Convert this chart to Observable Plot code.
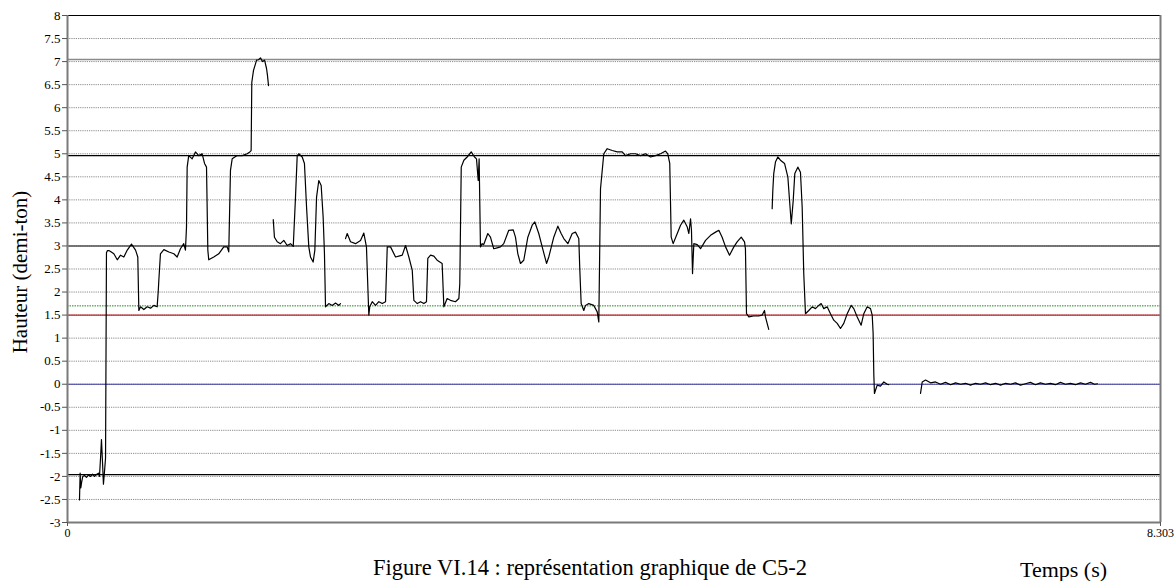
<!DOCTYPE html>
<html>
<head>
<meta charset="utf-8">
<script src="https://cdn.jsdelivr.net/npm/d3@7"></script>
<script src="https://cdn.jsdelivr.net/npm/@observablehq/plot@0.6"></script>
<style>
  body { margin: 0; background: #fff; }
  #wrap { position: relative; width: 1175px; height: 581px; font-family: "Liberation Serif", "Times New Roman", serif; color: #000; }
  #chart svg, #chart svg text { font-family: "Liberation Serif", "Times New Roman", serif !important; }
  #caption { position: absolute; left: 0; width: 1180px; top: 555px; text-align: center; font-size: 22.5px; white-space: nowrap; }
  #xlabel { position: absolute; left: 1020px; top: 557px; font-size: 22px; white-space: nowrap; }
</style>
</head>
<body>
<div id="wrap">
  <div id="chart"></div>
  <div id="caption">Figure VI.14 : représentation graphique de C5-2</div>
  <div id="xlabel">Temps (s)</div>
</div>
<script>
// ---- data: (time in s, height in semitones) ----
const segmentA = [
  [0.091,-2.51],[0.096,-1.93],[0.101,-2.25],[0.109,-2.10],[0.116,-2.00],[0.129,-1.98],[0.144,-2.02],
  [0.160,-1.97],[0.175,-2.00],[0.190,-1.95],[0.205,-2.00],[0.220,-1.96],[0.235,-1.93],[0.243,-2.00],
  [0.251,-1.60],[0.258,-1.20],[0.266,-1.70],[0.273,-2.17],[0.281,-1.90],[0.289,-1.60],[0.296,2.85],
  [0.304,2.90],[0.314,2.90],[0.327,2.88],[0.352,2.83],[0.378,2.70],[0.403,2.80],[0.428,2.76],
  [0.454,2.91],[0.486,3.04],[0.517,2.91],[0.534,2.76],[0.542,1.60],[0.555,1.68],[0.580,1.62],
  [0.605,1.68],[0.631,1.65],[0.656,1.71],[0.681,1.68],[0.689,2.00],[0.694,2.26],[0.706,2.83],
  [0.732,2.92],[0.770,2.87],[0.808,2.83],[0.833,2.76],[0.858,2.94],[0.883,3.05],[0.896,2.91],
  [0.904,3.41],[0.909,4.71],[0.921,4.96],[0.947,4.89],[0.972,5.04],[0.997,4.96],[1.023,5.00],
  [1.041,4.79],[1.056,4.71],[1.066,2.91],[1.073,2.70],[1.111,2.76],[1.149,2.83],[1.187,2.98],
  [1.213,2.98],[1.225,2.87],[1.238,4.64],[1.251,4.89],[1.289,4.96],[1.327,4.96],[1.365,5.00],
  [1.385,5.04],[1.395,5.07],[1.400,6.55],[1.405,6.65],[1.413,6.81],[1.428,6.95],[1.436,7.03],
  [1.451,7.04],[1.466,7.08],[1.481,7.00],[1.497,7.03],[1.512,6.85],[1.519,6.70],[1.527,6.48]
];
const segmentB = [
  [1.563,3.57],[1.572,3.19],[1.593,3.09],[1.618,3.05],[1.643,3.12],[1.669,3.01],[1.694,3.05],
  [1.715,2.99],[1.732,4.06],[1.745,4.96],[1.757,5.00],[1.783,4.93],[1.800,4.79],[1.816,3.84],
  [1.833,2.98],[1.846,2.76],[1.866,2.65],[1.879,2.91],[1.892,4.06],[1.909,4.42],[1.927,4.31],
  [1.942,3.63],[1.952,2.83],[1.960,1.68],[1.985,1.75],[2.011,1.71],[2.036,1.76],[2.061,1.71],
  [2.074,1.75]
];
const segmentC = [
  [2.112,3.16],[2.125,3.27],[2.150,3.09],[2.188,3.05],[2.226,3.12],[2.251,3.28],[2.271,2.98],
  [2.289,1.50],[2.296,1.68],[2.315,1.79],[2.340,1.71],[2.365,1.79],[2.391,1.75],[2.416,1.79],
  [2.429,2.98],[2.454,2.98],[2.492,2.76],[2.517,2.78],[2.543,2.80],[2.568,3.01],[2.593,2.76],
  [2.619,2.47],[2.631,1.82],[2.657,1.75],[2.682,1.79],[2.707,1.75],[2.727,1.79],[2.737,2.73],
  [2.758,2.80],[2.783,2.78],[2.808,2.69],[2.846,2.62],[2.859,1.68],[2.884,1.86],[2.909,1.82],
  [2.947,1.79],[2.973,1.86],[2.980,2.18],[2.991,4.71],[3.011,4.86],[3.036,4.93],[3.067,5.04],
  [3.092,4.93],[3.107,4.89],[3.120,4.42],[3.127,4.89],[3.137,2.98],[3.150,3.05],[3.162,3.03],
  [3.193,3.27],[3.213,3.19],[3.238,2.94],[3.264,2.96],[3.289,2.98],[3.314,3.05],[3.352,3.34],
  [3.386,3.35],[3.403,3.19],[3.421,2.83],[3.441,2.62],[3.466,2.69],[3.497,3.19],[3.530,3.45],
  [3.550,3.52],[3.580,3.27],[3.606,2.98],[3.639,2.62],[3.656,2.76],[3.694,3.19],[3.725,3.43],
  [3.750,3.27],[3.770,3.16],[3.801,3.05],[3.834,3.27],[3.859,3.30],[3.884,3.16],[3.892,2.47],
  [3.902,1.75],[3.922,1.60],[3.935,1.71],[3.960,1.75],[3.998,1.71],[4.024,1.57],[4.036,1.35],
  [4.049,4.24],[4.074,5.00],[4.100,5.11],[4.138,5.07],[4.176,5.04],[4.214,5.04],[4.239,4.96],
  [4.277,5.00],[4.315,5.00],[4.353,4.96],[4.391,5.00],[4.429,4.93],[4.467,4.96],[4.505,5.00],
  [4.543,5.06],[4.560,5.00],[4.575,4.79],[4.586,3.19],[4.601,3.05],[4.632,3.27],[4.657,3.45],
  [4.682,3.56],[4.708,3.41],[4.720,3.27],[4.733,3.59],[4.740,3.34],[4.748,2.40],[4.758,3.05],
  [4.784,3.03],[4.809,2.94],[4.847,3.12],[4.885,3.23],[4.923,3.30],[4.948,3.34],[4.973,3.19],
  [4.999,2.98],[5.029,2.80],[5.062,2.98],[5.087,3.09],[5.118,3.19],[5.143,3.09],[5.150,2.94],
  [5.158,1.53],[5.176,1.46],[5.211,1.48],[5.249,1.48],[5.277,1.50],[5.295,1.60],[5.302,1.46],
  [5.327,1.19]
];
const segmentD = [
  [5.353,3.81],[5.358,4.21],[5.365,4.57],[5.378,4.82],[5.396,4.93],[5.416,4.86],[5.447,4.79],
  [5.472,4.50],[5.485,3.99],[5.498,3.48],[5.513,3.99],[5.525,4.57],[5.548,4.71],[5.568,4.60],
  [5.581,3.84],[5.593,2.40],[5.606,1.53],[5.631,1.60],[5.657,1.68],[5.682,1.64],[5.707,1.71],
  [5.725,1.75],[5.745,1.64],[5.771,1.68],[5.796,1.53],[5.821,1.39],[5.847,1.32],[5.872,1.21],
  [5.897,1.32],[5.923,1.53],[5.953,1.71],[5.973,1.64],[5.999,1.46],[6.029,1.28],[6.049,1.53],
  [6.075,1.68],[6.100,1.64],[6.113,1.50],[6.120,1.10],[6.125,0.23],[6.130,-0.20],[6.151,-0.02],
  [6.176,-0.04],[6.201,0.05],[6.227,0.00],[6.239,-0.01]
];
const segmentE = [
  [6.480,-0.20],[6.493,0.05],[6.518,0.09],[6.556,0.03],[6.594,0.05],[6.632,0.00],[6.670,0.04],
  [6.708,-0.01],[6.746,0.03],[6.784,0.00],[6.822,0.02],[6.860,-0.02],[6.898,0.02],[6.936,0.00],
  [6.974,0.03],[7.012,-0.01],[7.050,0.02],[7.088,-0.02],[7.126,0.02],[7.164,0.00],[7.201,0.03],
  [7.239,-0.02],[7.277,0.01],[7.315,0.04],[7.353,-0.01],[7.391,0.03],[7.429,0.00],[7.467,0.02],
  [7.505,-0.01],[7.543,0.04],[7.581,0.00],[7.619,0.02],[7.657,-0.01],[7.695,0.03],[7.733,0.00],
  [7.771,0.04],[7.802,0.00],[7.824,0.01]
];
const xTicks = [0, 8.303];
const xTickLabels = ["0", "8.303"];
const yTicks = [-3,-2.5,-2,-1.5,-1,-0.5,0,0.5,1,1.5,2,2.5,3,3.5,4,4.5,5,5.5,6,6.5,7,7.5,8];
const referenceLevels = [7.045, 4.96, 3, 1.7, 1.5, 0, -1.96];

// ---- build ----
const serif = '"Liberation Serif", "Times New Roman", serif';
const segments = [segmentA, segmentB, segmentC, segmentD, segmentE];
const pts = segments.flatMap((s, i) => s.map(([t, h]) => ({t, h, seg: i})));
const refStyles = [
  {stroke: "#8a8a8a", strokeWidth: 1.6},
  {stroke: "#000000", strokeWidth: 1.2},
  {stroke: "#505050", strokeWidth: 1.6},
  {stroke: "#1a8a1a", strokeWidth: 1, strokeDasharray: "1.5,1"},
  {stroke: "#c02020", strokeWidth: 1.2},
  {stroke: "#3a3aa0", strokeWidth: 1.2},
  {stroke: "#000000", strokeWidth: 1.2}
];
const gridLevels = yTicks.filter(v => v > -3 && v < 8);

const chart = Plot.plot({
  width: 1175,
  height: 540,
  marginLeft: 67,
  marginRight: 15,
  marginTop: 15,
  marginBottom: 18,
  style: {fontFamily: serif, background: "#fff", color: "#000"},
  x: {domain: [0, 8.303], label: null},
  y: {domain: [-3, 8], label: null},
  marks: [
    Plot.ruleY(gridLevels, {stroke: "#8c8c8c", strokeWidth: 1, strokeDasharray: "1.2,1"}),
    ...referenceLevels.map((v, i) => Plot.ruleY([v], refStyles[i])),
    Plot.ruleY([8], {stroke: "#000", strokeWidth: 1.2}),
    Plot.ruleY([-3], {stroke: "#7a7a7a", strokeWidth: 2}),
    Plot.ruleX([0], {stroke: "#7a7a7a", strokeWidth: 2}),
    Plot.ruleX([8.303], {stroke: "#7a7a7a", strokeWidth: 2}),
    Plot.axisY({ticks: yTicks, tickFormat: d => String(d), tickSize: 5, tickPadding: 2, fontSize: 13, fontFamily: serif, label: null, stroke: "#555"}),
    Plot.axisX({ticks: xTicks, tickFormat: d => xTickLabels[xTicks.indexOf(d)], tickSize: 4, tickPadding: 2, fontSize: 12, fontFamily: serif, label: null, stroke: "#555"}),
    Plot.line(pts, {x: "t", y: "h", z: "seg", stroke: "#000", strokeWidth: 1.2}),
    Plot.text(["Hauteur (demi-ton)"], {frameAnchor: "left", textAnchor: "middle", rotate: -90, dx: -47, dy: 3, fontSize: 21, fontFamily: serif, fill: "#000"})
  ]
});
document.getElementById("chart").appendChild(chart);
</script>
</body>
</html>
